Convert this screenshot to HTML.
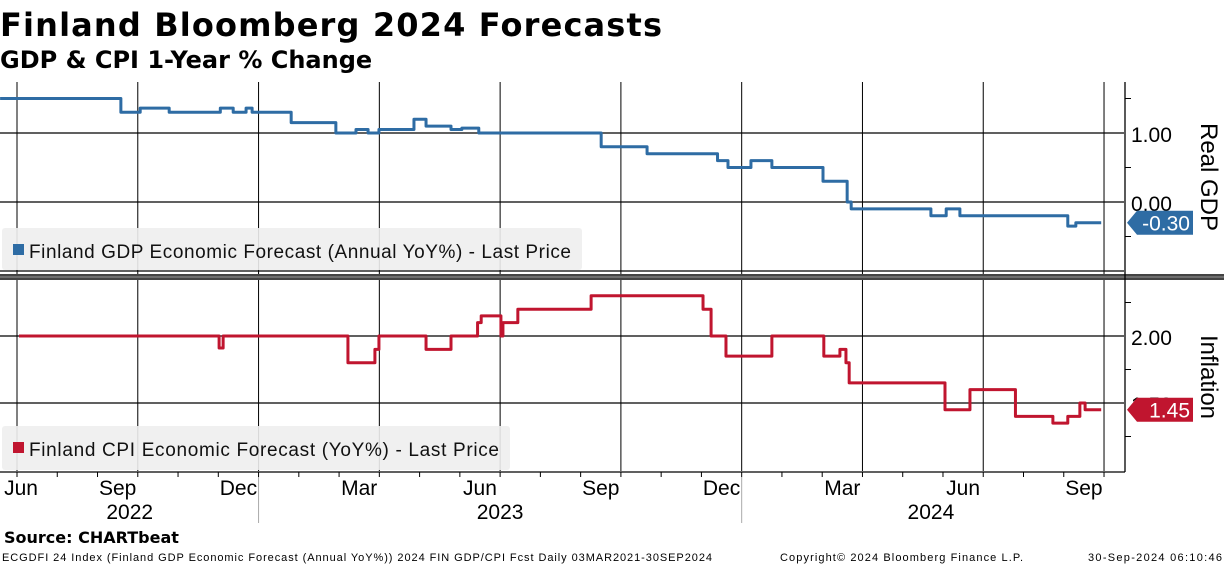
<!DOCTYPE html>
<html><head><meta charset="utf-8"><style>
html,body{margin:0;padding:0;background:#fff;}
svg{display:block;font-family:"Liberation Sans","DejaVu Sans",sans-serif;}
</style></head><body>
<svg id="chart" width="1224" height="566" viewBox="0 0 1224 566">
<text x="0" y="36" font-family="DejaVu Sans" font-weight="bold" font-size="32" textLength="662">Finland Bloomberg 2024 Forecasts</text>
<text x="0" y="68" font-family="DejaVu Sans" font-weight="bold" font-size="24">GDP &amp; CPI 1-Year % Change</text>
<g id="grid"></g>
<g id="series"></g>
<g id="axes"></g>
<text x="4" y="543" font-family="DejaVu Sans" font-weight="bold" font-size="16">Source: CHARTbeat</text>
<text x="2" y="561" font-size="11" textLength="710">ECGDFI 24 Index (Finland GDP Economic Forecast (Annual YoY%)) 2024 FIN GDP/CPI Fcst  Daily 03MAR2021-30SEP2024</text>
<text x="780" y="561" font-size="11" textLength="243">Copyright© 2024 Bloomberg Finance L.P.</text>
<text x="1088" y="561" font-size="11" textLength="134">30-Sep-2024 06:10:46</text>
</svg>
<script>
// Time in months since 1 Jul 2022; values hold until next change
const gdpT = [-0.42,2.58,3.06,3.78,5.05,5.37,5.69,5.84,6.81,7.92,8.42,8.72,8.99,9.86,10.16,10.78,11.05,11.47,14.51,15.65,17.40,17.66,18.23,18.75,20.02,20.62,20.72,22.70,23.08,23.42,26.10,26.30];
const gdpV = [1.50,1.30,1.36,1.30,1.36,1.30,1.36,1.30,1.15,1.00,1.05,1.00,1.05,1.20,1.10,1.05,1.07,1.00,0.80,0.70,0.60,0.50,0.60,0.50,0.30,0.00,-0.10,-0.20,-0.10,-0.20,-0.35,-0.30];
const cpiT = [0.05,5.02,5.12,8.22,8.89,8.99,10.16,10.78,11.44,11.53,12.02,12.07,12.44,14.26,17.04,17.24,17.61,18.75,20.04,20.44,20.59,20.67,23.05,23.67,24.80,25.73,26.10,26.40,26.53];
const cpiV = [2.00,1.91,2.00,1.80,1.90,2.00,1.90,2.00,2.10,2.15,2.00,2.10,2.20,2.30,2.20,2.00,1.85,2.00,1.85,1.90,1.80,1.65,1.45,1.60,1.40,1.35,1.40,1.50,1.45];
const endT = 26.93;
const gdpTicks = ["1.00","0.00"];
const cpiTicks = ["2.00","1.50"];
const monthLabels = ["Jun","Sep","Dec","Mar","Jun","Sep","Dec","Mar","Jun","Sep"];
const monthLabelT = [0.1,2.5,5.5,8.5,11.5,14.5,17.5,20.5,23.5,26.5];
const yearLabels = ["2022","2023","2024"];
const yearLabelT = [2.8,12.0,22.7];

const NS="http://www.w3.org/2000/svg";
const xs = t => 17 + t*40.26;
const yG = v => 202 - v*69;
const yC = v => 336 + (2.00 - v)*134;
function mk(tag, attrs, parent){const e=document.createElementNS(NS,tag);for(const k in attrs)e.setAttribute(k,attrs[k]);parent.appendChild(e);return e;}
const grid=document.getElementById('grid'), series=document.getElementById('series'), axes=document.getElementById('axes');

for(let q=0;q<=9;q++){
  const x=xs(q*3);
  const l=mk('line',{x1:x,x2:x,y1:82,y2:471,stroke:'#000','stroke-width':1},grid);
  
  
}
[[yG(1)],[yG(0)],[yG(-1)],[yC(2)],[yC(1.5)]].forEach(a=>{
  const l=mk('line',{x1:0,x2:1124,y1:a[0],y2:a[0],stroke:'#000','stroke-width':1.3},grid);
  
  
});
const dv=mk('rect',{x:0,y:274,width:1224,height:6,fill:'#444'},grid);


mk('line',{x1:0,x2:1224,y1:277,y2:277,stroke:'#999','stroke-width':1},grid);

function stepPath(T,V,yf){
  let d='M'+xs(T[0])+','+yf(V[0]);
  for(let i=1;i<T.length;i++){d+=' L'+xs(T[i])+','+yf(V[i-1])+' L'+xs(T[i])+','+yf(V[i]);}
  d+=' L'+xs(endT)+','+yf(V[V.length-1]);
  return d;
}
const gp=mk('path',{d:stepPath(gdpT,gdpV,yG),fill:'none',stroke:'#2e6ca4','stroke-width':3,'stroke-linejoin':'round'},series);


const cp=mk('path',{d:stepPath(cpiT,cpiV,yC),fill:'none',stroke:'#c0152f','stroke-width':3,'stroke-linejoin':'round'},series);



function legend(x,y,w,h,color,text,tl,name){
  const g=mk('g',{},axes);
  
  
  mk('rect',{x:x,y:y,width:w,height:h,fill:'#eeeeee','fill-opacity':0.9,rx:3},g);
  mk('rect',{x:x+11,y:y+16,width:11,height:11,fill:color},g);
  const t=mk('text',{x:x+27,y:y+30,'font-size':19,textLength:tl,fill:'#111'},g);
  t.textContent=text;
}
legend(2,228,580,42,'#2e6ca4','Finland GDP Economic Forecast (Annual YoY%) - Last Price',542,'gdp-legend-entry');
legend(2,426,508,44,'#c0152f','Finland CPI Economic Forecast (YoY%) - Last Price',470,'cpi-legend-entry');

const ax=mk('line',{x1:1125,x2:1125,y1:82,y2:472,stroke:'#000','stroke-width':1.3},axes);


[1.5,0.5,-0.5].forEach(v=>mk('line',{x1:1125,x2:1131,y1:yG(v),y2:yG(v),stroke:'#000'},axes));
[2.25,1.75,1.25].forEach(v=>mk('line',{x1:1125,x2:1131,y1:yC(v),y2:yC(v),stroke:'#000'},axes));
gdpTicks.forEach(s=>{
  const t=mk('text',{x:1131,y:yG(parseFloat(s))+9,'font-size':21},axes);
  
  
  t.textContent=s;
});
cpiTicks.forEach(s=>{
  const t=mk('text',{x:1131,y:yC(parseFloat(s))+9,'font-size':21},axes);
  
  
  t.textContent=s;
});
function axTitle(txt,cy,name){
  const t=mk('text',{x:0,y:0,'font-size':24,'text-anchor':'middle',transform:'translate(1201,'+cy+') rotate(90)'},axes);
  
  
  t.textContent=txt;
}
axTitle('Real GDP',177,'gdp-axis-title');
axTitle('Inflation',377,'cpi-axis-title');
function badge(y,color,txt,name){
  const g=mk('g',{},axes);
  
  
  mk('path',{d:`M1127,${y} L1137,${y-12} L1193,${y-12} L1193,${y+12} L1137,${y+12} Z`,fill:color},g);
  const t=mk('text',{x:1190,y:y+8,'font-size':21,fill:'#fff','text-anchor':'end'},g);
  t.textContent=txt;
}
badge(yG(gdpV[gdpV.length-1]),'#2e6ca4',gdpV[gdpV.length-1].toFixed(2),'gdp-last-value');
badge(yC(cpiV[cpiV.length-1]),'#c0152f',cpiV[cpiV.length-1].toFixed(2),'cpi-last-value');

const xa=mk('line',{x1:0,x2:1125,y1:472,y2:472,stroke:'#000','stroke-width':1.3},axes);


for(let m=0;m<=27;m++){const x=xs(m);mk('line',{x1:x,x2:x,y1:472,y2:477,stroke:'#000'},axes);}
monthLabels.forEach((s,i)=>{
  const t=mk('text',{x:xs(monthLabelT[i]),y:495,'font-size':21,'text-anchor':'middle'},axes);
  
  
  t.textContent=s;
});
yearLabels.forEach((s,i)=>{
  const t=mk('text',{x:xs(yearLabelT[i]),y:519,'font-size':21,'text-anchor':'middle'},axes);
  
  
  t.textContent=s;
});
[6,18].forEach(m=>mk('line',{x1:xs(m),x2:xs(m),y1:477,y2:523,stroke:'#aaa'},axes));
</script>
</body></html>
